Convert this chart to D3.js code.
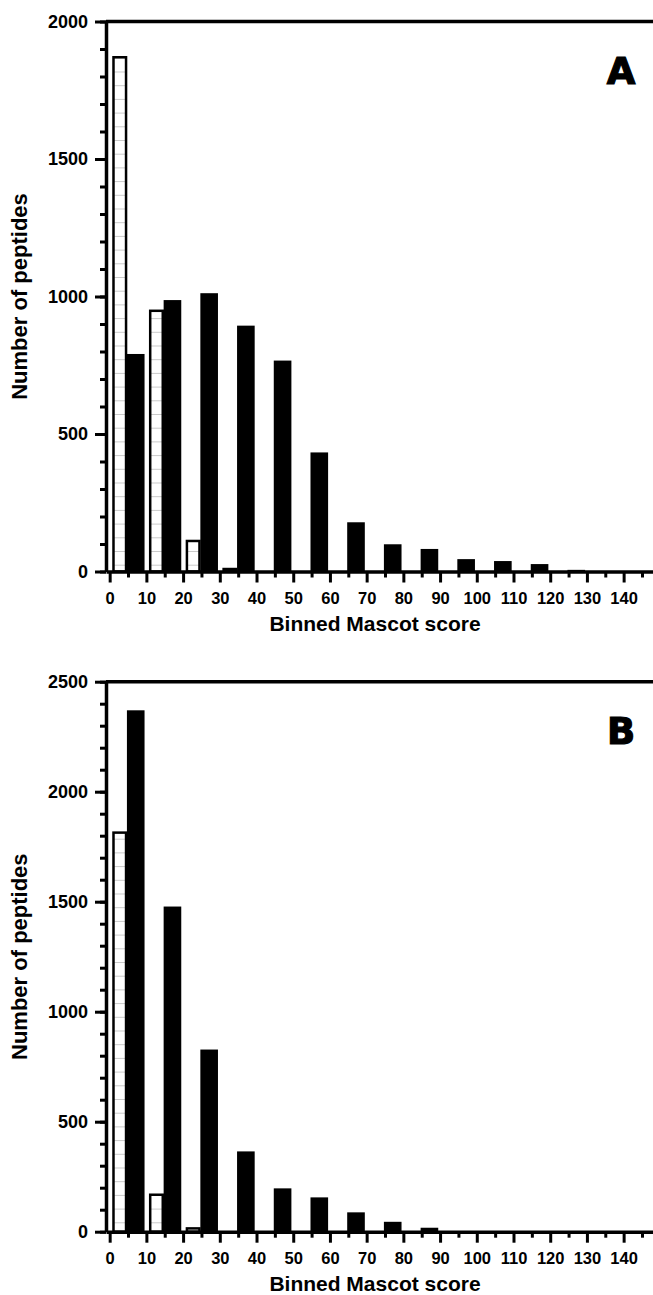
<!DOCTYPE html>
<html>
<head>
<meta charset="utf-8">
<script src="https://cdnjs.cloudflare.com/ajax/libs/d3/7.8.5/d3.min.js"></script>
<style>
body { margin: 0; background: #fff; }
svg { display: block; font-family: "Liberation Sans", Arial, sans-serif; font-weight: bold; }
</style>
</head>
<body>
<svg id="chart" width="653" height="1295"></svg>
<script>
// bins of the Mascot score (lower edge of each 10-wide bin)
var bins = [0, 10, 20, 30, 40, 50, 60, 70, 80, 90, 100, 110, 120, 130, 140];
var xTicks = [0, 10, 20, 30, 40, 50, 60, 70, 80, 90, 100, 110, 120, 130, 140];
var xMinor = [5, 15, 25, 35, 45, 55, 65, 75, 85, 95, 105, 115, 125, 135, 145];

// panel A
var openA   = [1870, 948, 111, 9, 0, 0, 0, 0, 0, 0, 0, 0, 0, 0, 0];
var filledA = [791, 987, 1012, 894, 767, 433, 179, 99, 82, 45, 38, 27, 6, 1, 0];
var yTicksA = [0, 500, 1000, 1500, 2000];

// panel B
var openB   = [1814, 168, 15, 0, 0, 0, 0, 0, 0, 0, 0, 0, 0, 0, 0];
var filledB = [2370, 1478, 828, 365, 197, 156, 88, 45, 18, 1, 0, 0, 0, 0, 0];
var yTicksB = [0, 500, 1000, 1500, 2000, 2500];

var xTitle = "Binned Mascot score";
var yTitle = "Number of peptides";

var svg = d3.select("#chart");

// faint horizontal lines inside the open bars
var pat = svg.append("defs").append("pattern")
    .attr("id", "hlines")
    .attr("patternUnits", "userSpaceOnUse")
    .attr("width", 10)
    .attr("height", 13.7)
    .attr("y", 3);
pat.append("rect").attr("width", 10).attr("height", 13.7).attr("fill", "#fff");
pat.append("line")
    .attr("x1", 0).attr("x2", 10)
    .attr("y1", 0.5).attr("y2", 0.5)
    .attr("stroke", "#c9c9c9")
    .attr("stroke-width", 1);

var x = d3.scaleLinear()
    .domain([-1, 148])
    .range([106, 653]);

var panels = [
    {letter: "A", open: openA, filled: filledA, yTicks: yTicksA, top: 21.5, bottom: 571.5},
    {letter: "B", open: openB, filled: filledB, yTicks: yTicksB, top: 681.7, bottom: 1231.7}
];

panels.forEach(drawPanel);

function drawPanel(p) {
    var ymax = p.yTicks[p.yTicks.length - 1];
    var y = d3.scaleLinear()
        .domain([0, ymax])
        .range([p.bottom, p.top]);

    var g = svg.append("g");

    var data = bins.map(function(b, i) {
        return {bin: b, open: p.open[i], filled: p.filled[i]};
    });

    // filled bars
    g.selectAll("rect.filled")
        .data(data.filter(function(d) { return d.filled > 0; }))
        .enter().append("rect")
        .attr("class", "filled")
        .attr("x", function(d) { return x(d.bin + 4.7); })
        .attr("width", function(d) { return x(d.bin + 9.5) - x(d.bin + 4.7); })
        .attr("y", function(d) { return y(d.filled); })
        .attr("height", function(d) { return y(0) - y(d.filled); })
        .attr("fill", "#000");

    // open bars
    g.selectAll("rect.open")
        .data(data.filter(function(d) { return d.open > 0; }))
        .enter().append("rect")
        .attr("class", "open")
        .attr("x", function(d) { return x(d.bin + 1.04); })
        .attr("width", function(d) { return x(d.bin + 4.46) - x(d.bin + 1.04); })
        .attr("y", function(d) { return y(d.open); })
        .attr("height", function(d) { return y(0) - y(d.open); })
        .attr("fill", "url(#hlines)")
        .attr("stroke", "#000")
        .attr("stroke-width", 2.5);

    // top frame line
    g.append("line")
        .attr("x1", x.range()[0]).attr("x2", x.range()[1])
        .attr("y1", p.top).attr("y2", p.top)
        .attr("stroke", "#000")
        .attr("stroke-width", 3.5);

    // y axis: minor then major
    var yMinor = d3.range(0, ymax + 1, 100);
    g.append("g")
        .attr("transform", "translate(" + x.range()[0] + ",0)")
        .call(d3.axisLeft(y).tickValues(yMinor).tickSize(6).tickSizeOuter(0).tickFormat(""))
        .call(function(a) { a.select(".domain").remove(); })
        .selectAll("line").attr("stroke-width", 3);

    var ya = g.append("g")
        .attr("transform", "translate(" + x.range()[0] + ",0)")
        .call(d3.axisLeft(y).tickValues(p.yTicks).tickSize(11).tickSizeOuter(0)
            .tickPadding(7).tickFormat(d3.format("d")));
    ya.select(".domain").attr("stroke-width", 3.5);
    ya.selectAll(".tick line").attr("stroke-width", 3);
    ya.selectAll("text")
        .attr("font-family", "Liberation Sans, Arial, sans-serif")
        .attr("font-weight", "bold")
        .attr("font-size", 18)
        .attr("fill", "#000");

    // x axis: minor then major
    g.append("g")
        .attr("transform", "translate(0," + p.bottom + ")")
        .call(d3.axisBottom(x).tickValues(xMinor).tickSize(6).tickSizeOuter(0).tickFormat(""))
        .call(function(a) { a.select(".domain").remove(); })
        .selectAll("line").attr("stroke-width", 3);

    var xa = g.append("g")
        .attr("transform", "translate(0," + p.bottom + ")")
        .call(d3.axisBottom(x).tickValues(xTicks).tickSize(11).tickSizeOuter(0)
            .tickPadding(10).tickFormat(d3.format("d")));
    xa.select(".domain").attr("stroke-width", 3.5);
    xa.selectAll(".tick line").attr("stroke-width", 3);
    xa.selectAll("text")
        .attr("font-family", "Liberation Sans, Arial, sans-serif")
        .attr("font-weight", "bold")
        .attr("font-size", 16.5)
        .attr("fill", "#000");

    // axis titles
    g.append("text")
        .attr("x", 375)
        .attr("y", p.bottom + 59.5)
        .attr("text-anchor", "middle")
        .attr("font-size", 21)
        .text(xTitle);

    g.append("text")
        .attr("transform", "translate(27," + ((p.top + p.bottom) / 2) + ") rotate(-90)")
        .attr("text-anchor", "middle")
        .attr("font-size", 22)
        .text(yTitle);

    // panel letter
    g.append("text")
        .attr("x", 621)
        .attr("y", p.top + 62)
        .attr("text-anchor", "middle")
        .attr("font-family", "DejaVu Sans, sans-serif")
        .attr("font-weight", "bold")
        .attr("font-size", 37)
        .attr("stroke", "#000")
        .attr("stroke-width", 1.2)
        .text(p.letter);
}
</script>
</body>
</html>
